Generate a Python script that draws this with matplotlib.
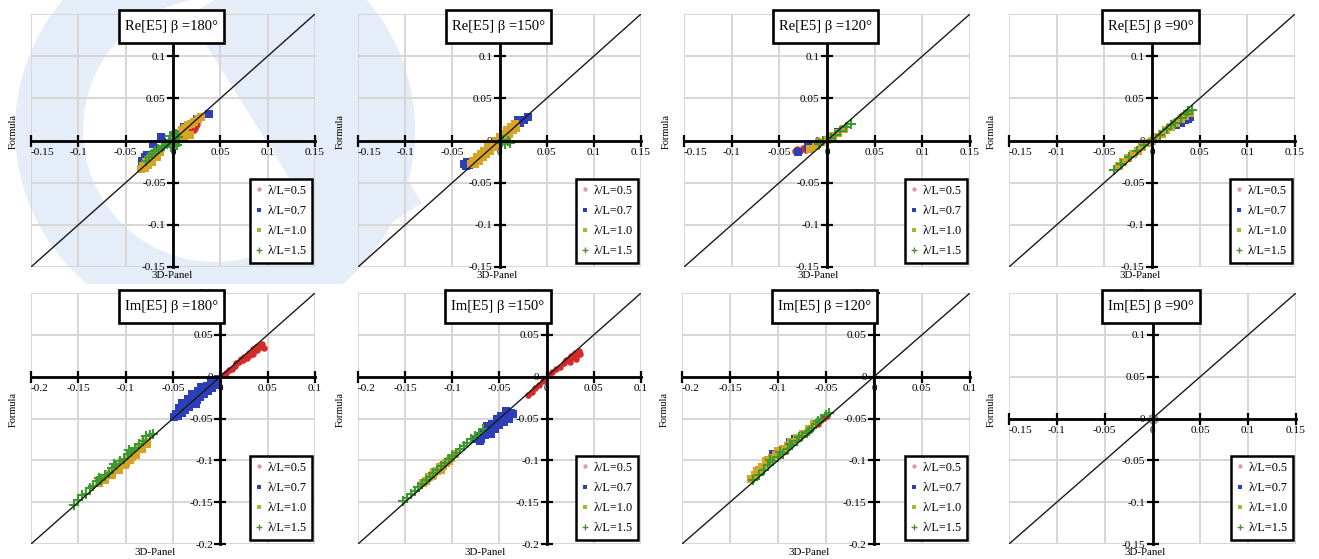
import matplotlib
matplotlib.use("Agg")
import matplotlib.pyplot as plt
from matplotlib.patches import Rectangle, Wedge, Polygon
from matplotlib.lines import Line2D
from matplotlib.transforms import Affine2D

plt.rcParams['font.family'] = ['Liberation Serif', 'DejaVu Serif']
plt.rcParams['axes.unicode_minus'] = False

# ---------------- data ----------------
series_labels = ['λ/L=0.5', 'λ/L=0.7', 'λ/L=1.0', 'λ/L=1.5']
series_colors = ['#d42a2a', '#2c3fb8', '#d6a325', '#3c9a2e']
series_markers = ['o', 's', 's', '+']
legend_colors = ['#d9a0a0', '#2c3fb8', '#a8b62e', '#4f8f3c']

titles_top = ['Re[E5] β =180°', 'Re[E5] β =150°', 'Re[E5] β =120°', 'Re[E5] β =90°']
titles_bot = ['Im[E5] β =180°', 'Im[E5] β =150°', 'Im[E5] β =120°', 'Im[E5] β =90°']

ticks_a = [-0.15, -0.1, -0.05, 0, 0.05, 0.1, 0.15]
labels_a = ['-0.15', '-0.1', '-0.05', '0', '0.05', '0.1', '0.15']
ticks_b = [-0.2, -0.15, -0.1, -0.05, 0, 0.05, 0.1]
labels_b = ['-0.2', '-0.15', '-0.1', '-0.05', '0', '0.05', '0.1']

# Re[E5] beta=180
re180_05 = [(0.014, 0.008), (0.016, 0.012), (0.018, 0.010), (0.020, 0.014), (0.022, 0.012),
            (0.019, 0.016), (0.024, 0.017), (0.017, 0.013), (0.021, 0.018), (0.015, 0.010),
            (0.023, 0.015), (0.012, 0.009), (0.010, 0.006), (0.025, 0.020)]
re180_07 = [(-0.030, -0.020), (-0.027, -0.017), (-0.024, -0.022), (-0.021, -0.004), (-0.013, 0.004),
            (0.025, 0.026), (0.038, 0.032), (0.012, 0.016), (-0.033, -0.024), (-0.018, -0.019),
            (0.005, 0.008)]
re180_10 = [(-0.034, -0.034), (-0.032, -0.030), (-0.030, -0.033), (-0.028, -0.026), (-0.026, -0.029),
            (-0.024, -0.022), (-0.022, -0.025), (-0.020, -0.018), (-0.017, -0.020), (-0.014, -0.014),
            (0.008, 0.006), (0.010, 0.012), (0.013, 0.015), (0.016, 0.018), (0.019, 0.020),
            (0.022, 0.022), (0.026, 0.025), (0.030, 0.028), (0.012, 0.004), (0.018, 0.006)]
re180_15 = [(-0.028, -0.024), (-0.025, -0.020), (-0.022, -0.016), (-0.019, -0.013), (-0.016, -0.010),
            (-0.012, -0.008), (-0.009, -0.006), (-0.006, -0.004), (-0.004, 0.000), (-0.002, -0.008),
            (0.000, -0.003), (0.002, 0.002), (0.004, -0.005), (0.005, 0.004), (0.003, 0.008),
            (0.006, -0.002), (-0.003, 0.005), (0.001, 0.010)]

# Re[E5] beta=150
re150_05 = [(0.004, 0.002), (0.008, 0.005), (0.010, 0.008), (-0.002, -0.004), (0.006, 0.007)]
re150_07 = [(-0.038, -0.028), (-0.036, -0.030), (-0.034, -0.026), (-0.032, -0.029), (0.018, 0.018),
            (0.022, 0.021), (0.026, 0.024), (0.030, 0.028), (0.020, 0.024)]
re150_10 = [(-0.030, -0.028), (-0.028, -0.024), (-0.026, -0.028), (-0.024, -0.020), (-0.022, -0.024),
            (-0.020, -0.016), (-0.018, -0.020), (-0.016, -0.012), (-0.014, -0.016), (-0.012, -0.008),
            (-0.010, -0.012), (-0.008, -0.004), (-0.006, -0.008), (-0.004, 0.000), (-0.002, -0.004),
            (0.000, 0.004), (0.002, 0.000), (0.004, 0.008), (0.006, 0.004), (0.008, 0.012),
            (0.010, 0.008), (0.012, 0.016), (0.014, 0.012), (0.016, 0.020), (0.018, 0.015)]
re150_15 = [(0.000, -0.003), (0.003, -0.002), (0.006, -0.004), (0.009, -0.001), (0.011, -0.003),
            (0.004, 0.001)]

# Re[E5] beta=120
re120_05 = [(-0.034, -0.012), (-0.031, -0.010), (-0.028, -0.013), (-0.025, -0.009), (-0.022, -0.011)]
re120_07 = [(-0.030, -0.014), (-0.020, -0.008), (-0.015, -0.006), (-0.010, -0.004), (0.005, 0.004),
            (0.012, 0.010)]
re120_10 = [(-0.018, -0.010), (-0.012, -0.006), (-0.006, -0.002), (0.000, 0.001), (0.006, 0.005),
            (0.012, 0.009), (0.018, 0.014)]
re120_15 = [(-0.008, -0.004), (-0.004, -0.001), (0.000, 0.000), (0.004, 0.003), (0.008, 0.006),
            (0.014, 0.011), (0.020, 0.016), (0.025, 0.020)]

# Re[E5] beta=90
re90_05 = [(0.002, 0.001), (-0.003, -0.002)]
re90_07 = [(0.025, 0.018), (0.030, 0.021), (0.035, 0.024), (0.038, 0.026), (0.040, 0.028),
           (0.028, 0.022), (0.033, 0.027)]
re90_10 = [(-0.035, -0.030), (-0.030, -0.026), (-0.025, -0.021), (-0.020, -0.016), (-0.015, -0.012),
           (-0.010, -0.008), (-0.005, -0.003), (0.000, 0.000), (0.005, 0.004), (0.010, 0.008),
           (0.015, 0.012), (0.020, 0.016), (0.025, 0.021), (0.030, 0.025), (0.035, 0.029),
           (0.040, 0.033)]
re90_15 = [(-0.040, -0.035), (-0.032, -0.028), (-0.024, -0.020), (-0.016, -0.013), (-0.008, -0.005),
           (0.000, 0.001), (0.008, 0.007), (0.016, 0.014), (0.024, 0.021), (0.030, 0.027),
           (0.036, 0.032), (0.042, 0.036), (0.038, 0.035), (0.020, 0.018)]

# Im[E5] beta=180
im180_05 = [(0.003, 0.002), (0.006, 0.004), (0.009, 0.008), (0.012, 0.009), (0.015, 0.013),
            (0.017, 0.016), (0.020, 0.017), (0.022, 0.021), (0.024, 0.020), (0.025, 0.024),
            (0.027, 0.025), (0.028, 0.022), (0.030, 0.028), (0.031, 0.026), (0.033, 0.030),
            (0.034, 0.027), (0.035, 0.033), (0.036, 0.031), (0.038, 0.035), (0.039, 0.032),
            (0.040, 0.037), (0.042, 0.036), (0.044, 0.039), (0.046, 0.034)]
im180_07 = [(-0.049, -0.048), (-0.047, -0.045), (-0.045, -0.047), (-0.043, -0.041), (-0.041, -0.044),
            (-0.039, -0.037), (-0.037, -0.040), (-0.035, -0.033), (-0.033, -0.036), (-0.031, -0.029),
            (-0.029, -0.032), (-0.027, -0.025), (-0.025, -0.028), (-0.023, -0.021), (-0.021, -0.024),
            (-0.019, -0.017), (-0.017, -0.021), (-0.015, -0.014), (-0.013, -0.017), (-0.011, -0.011),
            (-0.009, -0.014), (-0.007, -0.008), (-0.005, -0.010), (-0.003, -0.005), (-0.002, -0.003),
            (-0.038, -0.034), (-0.030, -0.021), (-0.040, -0.031), (-0.020, -0.012), (-0.014, -0.011),
            (-0.044, -0.037), (-0.034, -0.027), (-0.024, -0.017), (-0.010, -0.006), (-0.026, -0.033)]
im180_10 = [(-0.128, -0.127), (-0.122, -0.124), (-0.118, -0.116), (-0.114, -0.117), (-0.110, -0.108),
            (-0.107, -0.111), (-0.104, -0.102), (-0.101, -0.106), (-0.098, -0.097), (-0.095, -0.100),
            (-0.092, -0.090), (-0.089, -0.094), (-0.086, -0.084), (-0.083, -0.087), (-0.080, -0.078),
            (-0.077, -0.080), (-0.100, -0.103), (-0.093, -0.096)]
im180_15 = [(-0.155, -0.153), (-0.150, -0.148), (-0.146, -0.141), (-0.142, -0.140), (-0.138, -0.133),
            (-0.134, -0.131), (-0.130, -0.125), (-0.126, -0.123), (-0.122, -0.117), (-0.118, -0.115),
            (-0.114, -0.109), (-0.110, -0.106), (-0.106, -0.101), (-0.102, -0.098), (-0.098, -0.093),
            (-0.094, -0.090), (-0.090, -0.085), (-0.086, -0.081), (-0.082, -0.077), (-0.078, -0.071),
            (-0.074, -0.070), (-0.071, -0.068), (-0.128, -0.121), (-0.112, -0.104), (-0.096, -0.088)]

# Im[E5] beta=150
im150_05 = [(-0.020, -0.022), (-0.016, -0.018), (-0.012, -0.013), (-0.008, -0.010), (-0.004, -0.005),
            (0.002, 0.002), (0.006, 0.005), (0.010, 0.009), (0.014, 0.012), (0.018, 0.016),
            (0.021, 0.020), (0.024, 0.021), (0.026, 0.025), (0.028, 0.023), (0.030, 0.028),
            (0.032, 0.026), (0.034, 0.031), (0.035, 0.027), (0.025, 0.018), (0.031, 0.021)]
im150_07 = [(-0.075, -0.075), (-0.072, -0.071), (-0.070, -0.074), (-0.067, -0.068), (-0.065, -0.070),
            (-0.062, -0.064), (-0.060, -0.067), (-0.057, -0.060), (-0.055, -0.063), (-0.052, -0.055),
            (-0.050, -0.058), (-0.047, -0.051), (-0.045, -0.054), (-0.042, -0.046), (-0.040, -0.050),
            (-0.038, -0.043), (-0.036, -0.045), (-0.058, -0.056), (-0.048, -0.047), (-0.068, -0.066),
            (-0.063, -0.059), (-0.053, -0.050), (-0.043, -0.041), (-0.071, -0.077), (-0.059, -0.069)]
im150_10 = [(-0.131, -0.127), (-0.128, -0.125), (-0.125, -0.120), (-0.122, -0.119), (-0.119, -0.114),
            (-0.116, -0.113), (-0.113, -0.108), (-0.110, -0.107), (-0.107, -0.103), (-0.104, -0.101),
            (-0.101, -0.097), (-0.097, -0.093), (-0.120, -0.117), (-0.112, -0.111)]
im150_15 = [(-0.152, -0.149), (-0.148, -0.145), (-0.144, -0.140), (-0.140, -0.137), (-0.136, -0.132),
            (-0.132, -0.128), (-0.128, -0.123), (-0.124, -0.120), (-0.120, -0.115), (-0.116, -0.112),
            (-0.112, -0.107), (-0.108, -0.103), (-0.104, -0.099), (-0.100, -0.095), (-0.096, -0.091),
            (-0.092, -0.087), (-0.088, -0.083), (-0.084, -0.079), (-0.080, -0.075), (-0.076, -0.071),
            (-0.072, -0.067), (-0.068, -0.063)]

# Im[E5] beta=120
im120_05 = [(-0.052, -0.049), (-0.055, -0.052), (-0.049, -0.047), (-0.058, -0.056), (-0.062, -0.058),
            (-0.066, -0.062), (-0.070, -0.065), (-0.075, -0.070)]
im120_07 = [(-0.088, -0.078), (-0.082, -0.074), (-0.095, -0.088), (-0.110, -0.100), (-0.105, -0.093)]
im120_10 = [(-0.128, -0.122), (-0.124, -0.117), (-0.120, -0.112), (-0.117, -0.108), (-0.113, -0.104),
            (-0.110, -0.100), (-0.106, -0.097), (-0.102, -0.094), (-0.098, -0.090), (-0.094, -0.086),
            (-0.090, -0.083), (-0.086, -0.078), (-0.080, -0.073), (-0.074, -0.068), (-0.068, -0.062),
            (-0.062, -0.056), (-0.122, -0.113), (-0.112, -0.101), (-0.100, -0.089)]
im120_15 = [(-0.126, -0.124), (-0.120, -0.118), (-0.115, -0.111), (-0.110, -0.106), (-0.105, -0.101),
            (-0.100, -0.096), (-0.095, -0.092), (-0.090, -0.087), (-0.085, -0.082), (-0.080, -0.077),
            (-0.075, -0.071), (-0.070, -0.067), (-0.065, -0.061), (-0.060, -0.057), (-0.055, -0.051),
            (-0.050, -0.046), (-0.047, -0.043), (-0.108, -0.100), (-0.098, -0.090), (-0.088, -0.080),
            (-0.078, -0.072), (-0.068, -0.065), (-0.058, -0.053)]

# Im[E5] beta=90 : all values collapse at the origin
im90_05 = [(0.0, 0.0)]
im90_07 = [(0.0, 0.0)]
im90_10 = [(0.0, 0.0)]
im90_15 = [(0.0, 0.0)]

# ---------------- layout ----------------
W, H = 1319, 559
fig = plt.figure(figsize=(W / 100, H / 100), dpi=100)

# faint watermark of the source document (pixel coordinates, y downwards)
px = Affine2D().scale(1.0 / W, -1.0 / H).translate(0, 1) + fig.transFigure
wm_col = '#e4edf8'
clip = Rectangle((0, 0), 660, 284, transform=px)
ring = Wedge((215, 130), 200, 0, 360, width=68, transform=px, facecolor=wm_col,
             edgecolor='none', zorder=-2)
ring.set_clip_path(clip)
fig.patches.append(ring)
stroke = Polygon([(272, -36), (188, 16), (338, 256), (422, 203)], closed=True, transform=px,
                 facecolor=wm_col, edgecolor='none', zorder=-2)
stroke.set_clip_path(clip)
fig.patches.append(stroke)

panels = [
    # title, series, lim, ticks, labels, (left, top, width, height) in px, xlabel x-position
    (titles_top[0], [re180_05, re180_07, re180_10, re180_15], (-0.15, 0.15), ticks_a, labels_a, (31, 14, 284, 253), 0.497),
    (titles_top[1], [re150_05, re150_07, re150_10, re150_15], (-0.15, 0.15), ticks_a, labels_a, (358, 14, 283, 253), 0.493),
    (titles_top[2], [re120_05, re120_07, re120_10, re120_15], (-0.15, 0.15), ticks_a, labels_a, (684, 14, 286, 253), 0.47),
    (titles_top[3], [re90_05, re90_07, re90_10, re90_15], (-0.15, 0.15), ticks_a, labels_a, (1009, 14, 286, 253), 0.458),
    (titles_bot[0], [im180_05, im180_07, im180_10, im180_15], (-0.2, 0.1), ticks_b, labels_b, (31, 293, 284, 251), 0.437),
    (titles_bot[1], [im150_05, im150_07, im150_10, im150_15], (-0.2, 0.1), ticks_b, labels_b, (358, 293, 283, 251), 0.449),
    (titles_bot[2], [im120_05, im120_07, im120_10, im120_15], (-0.2, 0.1), ticks_b, labels_b, (682, 293, 288, 251), 0.44),
    (titles_bot[3], [im90_05, im90_07, im90_10, im90_15], (-0.15, 0.15), ticks_a, labels_a, (1009, 293, 287, 251), 0.473),
]

title_texts = []
for idx, (title, series, lim, ticks, tlabels, (l, t, w, h), xlab_x) in enumerate(panels):
    ax = fig.add_axes([l / W, 1 - (t + h) / H, w / W, h / H])
    ax.patch.set_alpha(0)
    ax.set_xlim(*lim)
    ax.set_ylim(*lim)
    ax.set_xticks(ticks)
    ax.set_xticklabels(tlabels)
    ax.set_yticks(ticks)
    ax.set_yticklabels(tlabels)
    ax.grid(True, color='#d6d6d6', lw=1.4)
    ax.set_axisbelow(True)
    for s in ['top', 'right']:
        ax.spines[s].set_visible(False)
    ax.spines['left'].set_position(('data', 0))
    ax.spines['bottom'].set_position(('data', 0))
    for s in ['left', 'bottom']:
        ax.spines[s].set_linewidth(2.0)
        ax.spines[s].set_zorder(5)
    ax.tick_params(direction='inout', length=8, width=1.6, labelsize=8.2, pad=1.2,
                   colors='black')
    ax.get_xticklabels()[0].set_horizontalalignment('left')

    # diagonal reference line
    ax.plot(lim, lim, color='#1a1a1a', lw=1.0, zorder=4)

    for k, pts in enumerate(series):
        xs = [p[0] for p in pts]
        ys = [p[1] for p in pts]
        col = series_colors[k] if idx != 7 else '#9a9a9a'
        if series_markers[k] == '+':
            ax.scatter(xs, ys, s=42, marker='+', color=col, linewidths=1.5, zorder=3)
        elif series_markers[k] == 'o':
            ax.scatter(xs, ys, s=22 if idx != 7 else 55, marker='o', color=col, linewidths=0, zorder=3)
        else:
            ax.scatter(xs, ys, s=30, marker='s', color=col, linewidths=0, zorder=3)

    ax.text(-0.062, 0.535, 'Formula', rotation=90, transform=ax.transAxes,
            ha='center', va='center', fontsize=7.5)
    ax.text(xlab_x, -0.034, '3D-Panel', transform=ax.transAxes,
            ha='center', va='center', fontsize=7.8)

    handles = [Line2D([], [], ls='none', marker=series_markers[k], color=legend_colors[k],
                      markersize=3.2 if series_markers[k] != '+' else 5,
                      markeredgewidth=1.0 if series_markers[k] == '+' else 0)
               for k in range(4)]
    leg = ax.legend(handles, series_labels, loc='lower right', bbox_to_anchor=(0.989, 0.016),
                    borderaxespad=0, fontsize=8.8, frameon=True, fancybox=False,
                    framealpha=1, edgecolor='black', handlelength=0.6, handletextpad=0.35,
                    labelspacing=0.68, borderpad=0.45)
    leg.get_frame().set_linewidth(1.8)
    leg.set_zorder(10)

    # title box (figure level, on top of the axes)
    cx = (l + w * 0.495) / W
    cy = 1 - (t + (12.5 if idx < 4 else 13.5)) / H
    tt = fig.text(cx, cy, title, ha='center', va='center', fontsize=10.5, zorder=6)
    title_texts.append(tt)

fig.canvas.draw()
renderer = fig.canvas.get_renderer()
for tt in title_texts:
    bb = tt.get_window_extent(renderer)
    padx = 6
    x0 = (bb.x0 - padx) / W
    x1 = (bb.x1 + padx) / W
    cyp = tt.get_position()[1] * H
    hh = 33
    fig.patches.append(Rectangle((x0, (cyp - hh / 2) / H), x1 - x0, hh / H,
                                 transform=fig.transFigure, facecolor='white',
                                 edgecolor='black', lw=1.9, zorder=5))

fig.savefig('out.png', dpi=100)
